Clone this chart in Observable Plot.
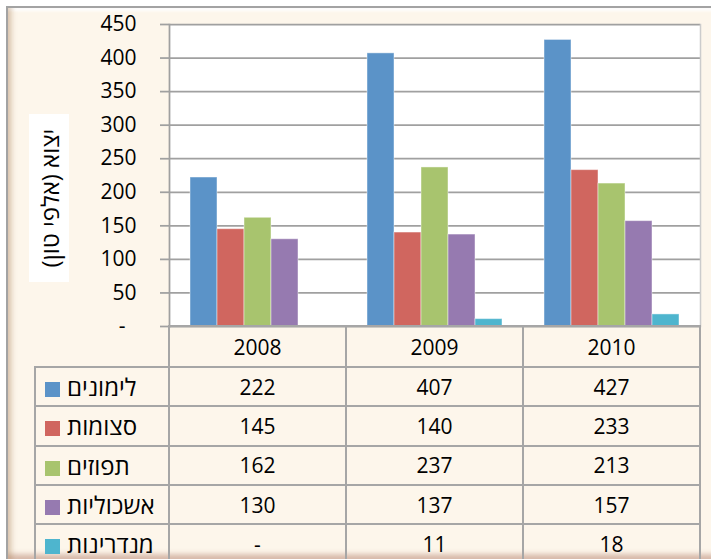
<!DOCTYPE html>
<html>
<head>
<meta charset="utf-8">
<script src="https://cdn.jsdelivr.net/npm/d3@7"></script>
<script src="https://cdn.jsdelivr.net/npm/@observablehq/plot@0.6"></script>
<style>
  html, body { margin: 0; padding: 0; background: #fff; }
  #stage { position: relative; width: 711px; height: 559px; overflow: hidden; background: #fff;
    font-family: "Open Sans", "DejaVu Sans", sans-serif; color: #000; }
  .frame { position: absolute; left: 6px; top: 6px; width: 716px; height: 551px;
    background: #FDF6EB; border-left: 2px solid #A3A3A3; border-top: 2px solid #A3A3A3;
    box-shadow: inset 7px 0 5px -3px rgba(170,130,90,0.35), inset 0 5px 3px -2px #ffffff,
                inset 0 -7px 5px -2px rgba(175,120,100,0.45); }
  #chart { position: absolute; left: 0; top: 0; }
  #ylabel { position: absolute; left: 29px; top: 114px; width: 40px; height: 168px; background: #fff; }
  #ylabel span { position: absolute; left: 50%; top: 50%; transform: translate(-50%, -50%) rotate(-90deg);
    white-space: nowrap; font-size: 24px; direction: rtl; }
  #tbl { position: absolute; left: 34px; top: 325px; border-collapse: collapse; table-layout: fixed;
    font-size: 21px; }
  #tbl td { border: 2px solid #A6A6A6; padding: 0; text-align: center; vertical-align: middle; }
  #tbl tr.head td { height: 39px; }
  #tbl tr.row td { height: 37.3px; }
  #tbl td.blank { border-top: none; border-left: none; }
  #tbl td.name { text-align: left; direction: ltr; padding-left: 9px; white-space: nowrap; }
  #tbl td.name i { display: inline-block; width: 15px; height: 15px; margin-right: 7px; vertical-align: -1px; }
  #tbl td.name span { font-size: 24px; }
</style>
</head>
<body>
<div id="stage">
  <div class="frame"></div>
  <div id="chart"></div>
  <div id="ylabel"><span id="ylabelText"></span></div>
  <table id="tbl"></table>
</div>
<script>
// ---- data ----
const years = ["2008", "2009", "2010"];
const seriesNames = ["לימונים", "סצומות", "תפוזים", "אשכוליות", "מנדרינות"];
const seriesColors = ["#5B93C8", "#D0665F", "#A8C46E", "#967AB0", "#4EB5CE"];
const lemons = [222, 407, 427];
const pomelos = [145, 140, 233];
const oranges = [162, 237, 213];
const grapefruits = [130, 137, 157];
const mandarins = [null, 11, 18];
const yTicks = [0, 50, 100, 150, 200, 250, 300, 350, 400, 450];
const yTitle = "יצוא (אלפי טון)";

const seriesValues = [lemons, pomelos, oranges, grapefruits, mandarins];
const data = seriesNames.flatMap((s, si) =>
  years.map((y, yi) => ({year: y, series: s, value: seriesValues[si][yi]}))
).filter(d => d.value != null);

const font = '"Open Sans", "DejaVu Sans", sans-serif';
const gridColor = "#A0A0A0";

const chart = Plot.plot({
  width: 711,
  height: 327,
  marginLeft: 169,
  marginRight: 11,
  marginTop: 24,
  marginBottom: 1,
  style: {background: "transparent", fontFamily: font, fontSize: "21px", color: "#000", overflow: "visible"},
  fx: {domain: years, padding: 0, axis: null},
  x: {domain: seriesNames, paddingInner: 0, paddingOuter: 0.75, axis: null},
  y: {domain: [0, 450], axis: null},
  color: {domain: seriesNames, range: seriesColors},
  marks: [
    Plot.frame({facet: "super", fill: "white", stroke: null}),
    Plot.ruleY(yTicks, {stroke: gridColor, strokeWidth: 1.75}),
    Plot.barY(data, {fx: "year", x: "series", y: "value", fill: "series",
      stroke: "white", strokeOpacity: 0.45, strokeWidth: 1}),
    Plot.axisY({ticks: yTicks, tickSize: 9, tickPadding: 24, label: null,
      tickFormat: d => d === 0 ? "-\u00A0\u00A0" : String(d),
      stroke: gridColor, strokeWidth: 1.75, fill: "#000", fontSize: 21}),
    Plot.frame({facet: "super", anchor: "left", stroke: gridColor, strokeWidth: 1.75}),
    Plot.frame({facet: "super", anchor: "right", stroke: "#CCCCCC", strokeWidth: 1.5})
  ]
});
document.getElementById("chart").appendChild(chart);
document.getElementById("ylabelText").textContent = yTitle;

// ---- data table (legend + values) ----
const tbl = document.getElementById("tbl");
const cg = document.createElement("colgroup");
[134, 177, 177, 177].forEach(w => {
  const c = document.createElement("col"); c.style.width = w + "px"; cg.appendChild(c);
});
tbl.appendChild(cg);
const head = document.createElement("tr");
head.className = "head";
const blank = document.createElement("td"); blank.className = "blank"; head.appendChild(blank);
years.forEach(y => { const td = document.createElement("td"); td.textContent = y; head.appendChild(td); });
tbl.appendChild(head);
seriesNames.forEach((s, si) => {
  const tr = document.createElement("tr"); tr.className = "row";
  const nm = document.createElement("td"); nm.className = "name";
  const sw = document.createElement("i"); sw.style.background = seriesColors[si];
  const lab = document.createElement("span"); lab.textContent = s;
  nm.appendChild(sw); nm.appendChild(lab); tr.appendChild(nm);
  years.forEach((y, yi) => {
    const td = document.createElement("td");
    const v = seriesValues[si][yi];
    td.textContent = v == null ? "-" : String(v);
    tr.appendChild(td);
  });
  tbl.appendChild(tr);
});
</script>
</body>
</html>
